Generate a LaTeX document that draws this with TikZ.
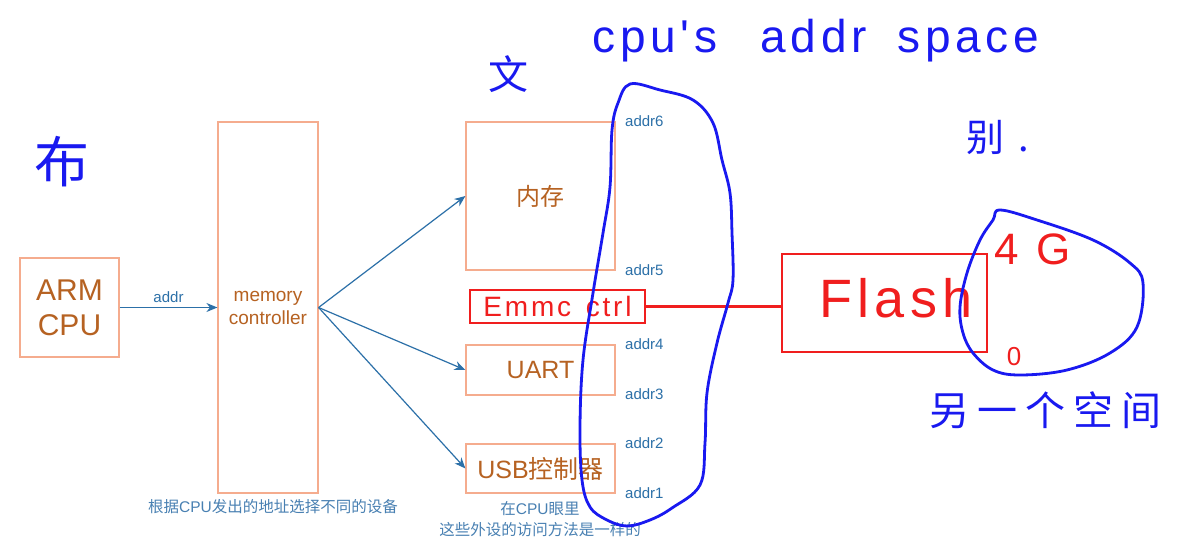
\documentclass[tikz,border=0pt]{standalone}
\usepackage{fontspec}
\setmainfont{Liberation Sans}
\newfontfamily\cjk{Noto Sans CJK SC}
\newfontfamily\handfont[LetterSpace=10]{Liberation Sans}
\newfontfamily\handcjk[LetterSpace=20]{Noto Sans CJK SC}
\usetikzlibrary{arrows.meta}
\definecolor{boxc}{RGB}{245,172,142}
\definecolor{txtc}{RGB}{182,98,34}
\definecolor{addrc}{RGB}{44,112,168}
\definecolor{capc}{RGB}{72,128,178}
\definecolor{penb}{RGB}{25,25,240}
\definecolor{penr}{RGB}{240,30,30}
\tikzset{
  box/.style={draw=boxc, line width=1.2pt, inner sep=0pt, text=txtc, align=center},
  conn/.style={draw=addrc, line width=1.2pt, -{Stealth[length=11pt,width=9pt]}},
  addrlbl/.style={text=addrc, anchor=west, inner sep=0pt, font=\fontsize{15}{18}\selectfont},
  caplbl/.style={text=capc, inner sep=0pt, align=center, font=\fontsize{15.5}{20}\selectfont},
  redbox/.style={draw=penr, line width=2.2pt, inner sep=0pt, text=penr},
  redline/.style={draw=penr, line width=2.2pt},
  bluepen/.style={draw=penb, line width=2.8pt, line join=round, line cap=round},
  bluetext/.style={text=penb, inner sep=0pt},
  redtext/.style={text=penr, inner sep=0pt}
}
\begin{document}
\begin{tikzpicture}[x=1pt, y=-1pt]
\fill[white] (0,0) rectangle (1181,548);
\useasboundingbox (0,0) rectangle (1181,548);

% printed boxes
\node[box, minimum width=99pt, minimum height=99pt, font=\fontsize{30}{35}\selectfont] (arm) at (69.5,307.5) {ARM\\CPU};
\node[box, minimum width=100pt, minimum height=371pt, font=\fontsize{19}{23}\selectfont] (mc) at (268,307.5) {memory\\controller};
\node[box, minimum width=149pt, minimum height=148pt, font=\fontsize{24}{28}\selectfont\cjk] (mem) at (540.5,196) {内存};
\node[box, minimum width=149pt, minimum height=50pt, font=\fontsize{25}{29}\selectfont] (uart) at (540.5,370) {UART};
\node[box, minimum width=149pt, minimum height=49pt, font=\fontsize{25}{29}\selectfont] (usb) at (540.5,468.5) {USB{\cjk 控制器}};

% connectors
\draw[conn] (arm.east) -- node[above=4pt, text=addrc, font=\fontsize{15}{18}\selectfont, inner sep=0pt] (addrlab) {addr} (mc.west);
\draw[conn] (mc.east) -- (mem.west);
\draw[conn] (mc.east) -- (uart.west);
\draw[conn] (mc.east) -- (usb.west);

% address labels
\node[addrlbl] (a6) at (625,121) {addr6};
\node[addrlbl] (a5) at (625,270) {addr5};
\node[addrlbl] (a4) at (625,344) {addr4};
\node[addrlbl] (a3) at (625,394) {addr3};
\node[addrlbl] (a2) at (625,443) {addr2};
\node[addrlbl] (a1) at (625,493) {addr1};

% captions
\node[caplbl] (cap1) at (273,507) {{\cjk 根据}CPU{\cjk 发出的地址选择不同的设备}};
\node[caplbl] (cap2) at (540,509) {{\cjk 在}CPU{\cjk 眼里}};
\node[caplbl] (cap3) at (540,530) {\cjk 这些外设的访问方法是一样的};

% red handwriting
\node[redbox, minimum width=175pt, minimum height=33pt, font=\handfont\fontsize{28}{30}\selectfont] (emmc) at (557.5,306.5) {Emmc\hspace{4pt} ctrl};
\node[redbox, minimum width=205pt, minimum height=98pt] (flash) at (884.5,303) {};
\node[redtext, font=\handfont\fontsize{54}{60}\selectfont] (flashtxt) at (896,298) {Flash};
\draw[redline] (emmc.east) -- (emmc.east -| flash.west);
\node[redtext, font=\handfont\fontsize{44}{48}\selectfont, anchor=west] (g4) at (994,249) {4\hspace{18pt}G};
\node[redtext, font=\fontsize{26}{30}\selectfont] (zero) at (1014,357) {0};

% blue handwriting
\draw[bluepen] plot[smooth cycle, tension=0.6] coordinates {
 (630,84) (660,90) (693,100) (713,123) (722,160) (730,193) (732,233) (733,280)
 (728,303) (717,343) (707,393) (705,443) (700,485) (672,508) (650,520) (627,526)
 (607,520) (590,507) (582,480) (580,427) (583,360) (593,293) (603,233) (610,187)
 (612,130) (618,103)};
\draw[bluepen] plot[smooth cycle, tension=0.6] coordinates {
 (1000,210) (1037,220) (1093,240) (1130,263) (1143,283) (1137,327) (1110,353)
 (1067,370) (1020,375) (993,370) (973,353) (963,333) (960,307) (967,273)
 (980,240) (993,220)};

\node[bluetext, font=\handfont\fontsize{46}{50}\selectfont] (title) at (816,41) {cpu's\ \hspace{26pt}addr\ \hspace{14pt}space};
\node[bluetext, font=\cjk\fontsize{40}{44}\selectfont] (wen) at (508,74) {文};
\node[bluetext, font=\cjk\fontsize{55}{60}\selectfont] (bu) at (62,162) {布};
\node[bluetext, font=\cjk\fontsize{38}{42}\selectfont] (bie) at (998,137) {别\hspace{14pt}.};
\node[bluetext, font=\handcjk\fontsize{40}{44}\selectfont] (other) at (1045,410) {另一个空间};
\end{tikzpicture}
\end{document}
